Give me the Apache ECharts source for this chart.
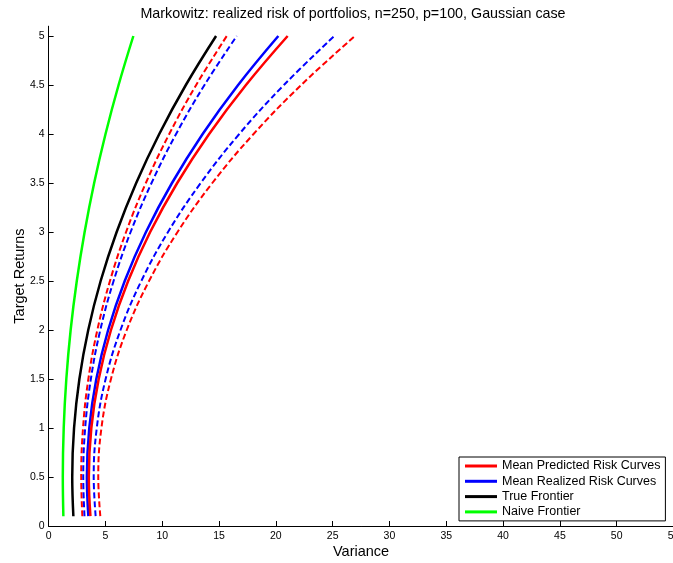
<!DOCTYPE html>
<html>
<head>
<meta charset="utf-8">
<script src="https://cdn.jsdelivr.net/npm/echarts@6/dist/echarts.min.js"></script>
<style>html,body{margin:0;padding:0;background:#fff}#c{width:673px;height:563px}</style>
</head>
<body>
<div id="c"></div>
<script>
// Target returns (y) and variances (x)
const returns = [0.1, 0.5, 1, 1.5, 2, 2.5, 3, 3.5, 4, 4.5, 5];
const naive = [1.30, 1.25, 1.33, 1.56, 1.94, 2.48, 3.17, 4.01, 5.01, 6.16, 7.46];
const trueFrontier = [2.18, 2.08, 2.24, 2.71, 3.49, 4.58, 5.99, 7.71, 9.74, 12.08, 14.74];
const predMean = [3.68, 3.54, 3.76, 4.41, 5.49, 7.00, 8.94, 11.32, 14.13, 17.37, 21.04];
const predLow = [2.97, 2.87, 3.03, 3.50, 4.29, 5.40, 6.82, 8.56, 10.62, 12.99, 15.68];
const predHigh = [4.55, 4.37, 4.65, 5.49, 6.88, 8.84, 11.35, 14.41, 18.04, 22.23, 26.97];
const realMean = [3.50, 3.37, 3.58, 4.20, 5.24, 6.70, 8.57, 10.86, 13.56, 16.68, 20.22];
const realLow = [3.16, 3.05, 3.22, 3.72, 4.55, 5.72, 7.22, 9.06, 11.22, 13.72, 16.56];
const realHigh = [4.14, 3.97, 4.24, 5.02, 6.33, 8.16, 10.51, 13.39, 16.78, 20.71, 25.15];
const xTicks = [0, 5, 10, 15, 20, 25, 30, 35, 40, 45, 50, 55];
const yTicks = [0, 0.5, 1, 1.5, 2, 2.5, 3, 3.5, 4, 4.5, 5];
const legendNames = ['Mean Predicted Risk Curves', 'Mean Realized Risk Curves', 'True Frontier', 'Naive Frontier'];

const pts = xs => xs.map((x, i) => [x, returns[i]]);
const FONT = 'Liberation Sans, Arial, sans-serif';
function line(name, xs, color, dashed) {
  return {
    name: name, type: 'line', data: pts(xs), smooth: 0.4, symbol: 'none',
    lineStyle: { color: color, width: dashed ? 2 : 2.5, type: dashed ? [6, 3] : 'solid' },
    itemStyle: { color: color }, animation: false
  };
}

const chart = echarts.init(document.getElementById('c'), null, { renderer: 'canvas' });
chart.setOption({
  animation: false,
  backgroundColor: '#fff',
  title: {
    text: 'Markowitz: realized risk of portfolios, n=250, p=100, Gaussian case',
    left: 348, top: 2, textAlign: 'center',
    textStyle: { fontFamily: FONT, fontSize: 14.3, fontWeight: 'normal', color: '#000' }
  },
  grid: { left: 48.6, right: -0.5, top: 26.2, bottom: 37, containLabel: false, outerBoundsMode: 'none' },
  legend: {
    data: legendNames, orient: 'vertical', left: 459, top: 457,
    padding: [2, 5, 2, 6], itemGap: 1.3, itemWidth: 32, itemHeight: 3, icon: 'rect',
    borderColor: '#000', borderWidth: 1, backgroundColor: '#fff', borderRadius: 0,
    textStyle: { fontFamily: FONT, fontSize: 12.5, color: '#000', lineHeight: 14 }
  },
  xAxis: {
    type: 'value', min: 0, max: 55, interval: 5,
    name: 'Variance', nameLocation: 'middle', nameGap: 18, nameMoveOverlap: false,
    nameTextStyle: { fontFamily: FONT, fontSize: 14.5, color: '#000' },
    axisLine: { show: true, onZero: false, lineStyle: { color: '#000', width: 1 } },
    axisTick: { show: true, inside: true, length: 5, lineStyle: { color: '#000' }, customValues: xTicks },
    axisLabel: { fontFamily: FONT, fontSize: 10.5, color: '#000', margin: 5, customValues: xTicks },
    splitLine: { show: false }
  },
  yAxis: {
    type: 'value', min: 0, max: 5.1,
    name: 'Target Returns', nameLocation: 'middle', nameGap: 21, nameRotate: 90, nameMoveOverlap: false,
    nameTextStyle: { fontFamily: FONT, fontSize: 14.5, color: '#000' },
    axisLine: { show: true, onZero: false, lineStyle: { color: '#000', width: 1 } },
    axisTick: { show: true, inside: true, length: 5, lineStyle: { color: '#000' }, customValues: yTicks },
    axisLabel: { fontFamily: FONT, fontSize: 10.5, color: '#000', margin: 4, customValues: yTicks },
    splitLine: { show: false }
  },
  series: [
    line('Naive Frontier', naive, '#00ff00', false),
    line('True Frontier', trueFrontier, '#000000', false),
    line('Pred lower', predLow, '#ff0000', true),
    line('Real lower', realLow, '#0000ff', true),
    line('Mean Realized Risk Curves', realMean, '#0000ff', false),
    line('Mean Predicted Risk Curves', predMean, '#ff0000', false),
    line('Real upper', realHigh, '#0000ff', true),
    line('Pred upper', predHigh, '#ff0000', true)
  ]
});
</script>
</body>
</html>
